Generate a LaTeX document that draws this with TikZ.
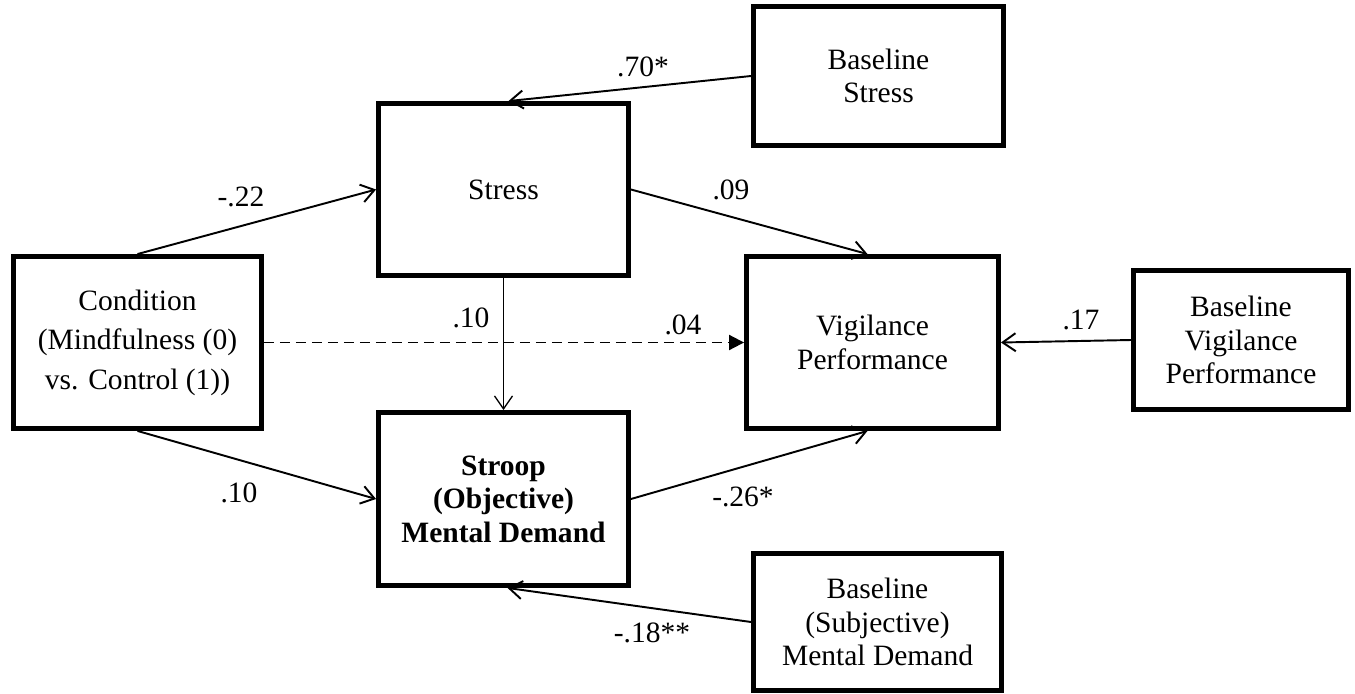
\documentclass[tikz,border=0pt]{standalone}
\usepackage{fontspec}
\setmainfont{Liberation Serif}
\usetikzlibrary{arrows.meta,positioning}

\begin{document}
\begin{tikzpicture}[
    x=0.02cm, y=-0.02cm,
    font=\fontsize{16.8}{19}\selectfont,
    var/.style   = {draw, line width=2.8pt, align=center, inner sep=0pt,
                    minimum width=5cm, minimum height=3.44cm},
    base/.style  = {var, minimum height=2.78cm},
    path/.style  = {-{Straight Barb[length=2.6mm,width=3.6mm]},
                    line width=1.1pt},
    direct/.style= {-{Triangle[length=3mm,width=3mm]}, line width=1.1pt,
                    dash pattern=on 0.2cm off 0.12cm},
    coef/.style  = {inner sep=1pt},
]
\useasboundingbox (0,0) rectangle (1355,693);

%% ── Variables ─────────────────────────────────────────────────────────────
\node[var, minimum width=4.96cm, font=\fontsize{16.8}{22.5}\selectfont]
  (cond) at (137.5,342.5) {Condition\\(Mindfulness (0)\\vs. Control (1))};
\node[var] (stress) at (503.5,189.5) {Stress};
\node[var, minimum height=3.46cm, font=\fontsize{16.8}{19}\selectfont\bfseries]
  (stroop) at (503.5,499) {Stroop\\(Objective)\\Mental Demand};
\node[var, minimum width=5.04cm] (vig) at (872.5,342.5)
  {Vigilance\\Performance};

%% ── Baselines ─────────────────────────────────────────────────────────────
\node[base] (bstress) at (878.5,76) {Baseline\\Stress};
\node[base, minimum width=4.3cm] (bvig) at (1241,340)
  {Baseline\\Vigilance\\Performance};
\node[base, minimum width=4.96cm, minimum height=2.74cm] (bmd)
  at (877.5,622) {Baseline\\(Subjective)\\Mental Demand};

%% ── Paths ─────────────────────────────────────────────────────────────────
\draw[path] (bstress.west) -- ([xshift=0.1cm]stress.north);
\draw[path] (cond.north) -- (stress.west);
\draw[path] (cond.south) -- (stroop.west);
\draw[path] (stress.east) -- ([xshift=-0.1cm]vig.north);
\draw[path, line width=0.75pt] (stress.south) -- (stroop.north);
\draw[direct] (cond.east) -- (vig.west);
\draw[path] (bvig.west) -- (vig.east);
\draw[path] (stroop.east) -- ([xshift=-0.1cm]vig.south);
\draw[path] (bmd.west) -- ([xshift=0.08cm]stroop.south);

%% ── Coefficients ──────────────────────────────────────────────────────────
\node[coef] (c70)  at (643,67)  {.70*};
\node[coef] (c22)  at (241,197) {-.22};
\node[coef] (c09)  at (731,190) {.09};
\node[coef] (c10a) at (471,318) {.10};
\node[coef] (c04)  at (683,325) {.04};
\node[coef] (c17)  at (1081,320) {.17};
\node[coef] (c10b) at (239,493) {.10};
\node[coef] (c26)  at (743,497) {-.26*};
\node[coef] (c18)  at (652,633) {-.18**};

\end{tikzpicture}
\end{document}
